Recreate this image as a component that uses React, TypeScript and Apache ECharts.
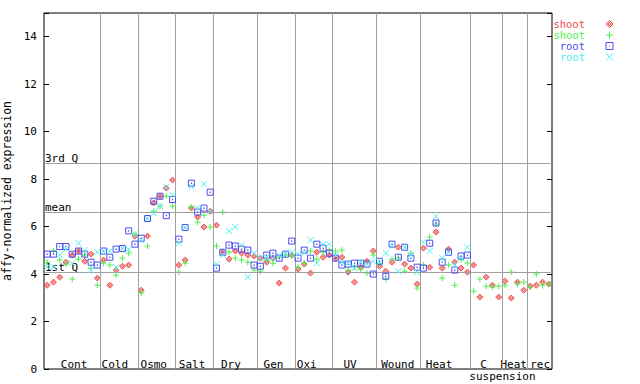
import React, { useEffect, useRef } from 'react';
import * as echarts from 'echarts';

const groupNames = ['Cont', 'Cold', 'Osmo', 'Salt', 'Dry', 'Gen', 'Oxi', 'UV', 'Wound', 'Heat', 'C suspension', 'Heat', 'rec'];
const groupSizes = [9, 6, 6, 6, 7, 6, 6, 7, 7, 8, 5, 4, 4];
const groupLabelAt = [4.8, 11.3, 17.5, 23.6, 29.8, 36.6, 41.9, 48.8, 56.4, 63.0, 70.1, 74.9, 79.1];
const subLabelAt = 73.1;

const yTicks = [0, 2, 4, 6, 8, 10, 12, 14];
const refLabels = ['3rd Q', 'mean', '1st Q'];
const refValues = [8.67, 6.6, 4.07];

const shootA = [
  3.53, 3.66, 3.87, 4.5, 4.8, 4.97, 4.54, 4.84, 3.83,
  4.59, 3.53, 4.17, 4.33, 4.38, 5.6,
  3.32, 5.6, 7.0, 7.28, 7.62, 7.96,
  4.38, 4.59, 6.78, 6.4, 5.98, 6.65,
  6.06, 4.92, 4.63, 4.97, 4.88, 4.8, 4.76,
  4.67, 4.5, 4.67, 3.62, 4.25, 4.8,
  4.21, 4.42, 4.04, 4.92, 4.71, 4.8,
  4.67, 4.71, 4.08, 3.66, 4.29, 4.54, 4.97,
  4.33, 4.12, 4.5, 5.13, 4.42, 4.25, 3.58,
  5.09, 4.29, 5.77, 4.25, 5.05, 4.5, 4.25, 4.08,
  4.38, 3.03, 3.87, 3.53, 3.03,
  3.7, 2.99, 3.66, 3.32,
  3.49, 3.53, 3.66, 3.58,
];
const shootB = [
  4.5, 4.97, 4.59, 4.42, 3.79, 4.63, 4.8, 4.25, 3.53,
  4.46, 4.38, 3.96, 4.67, 4.88, 5.68,
  3.2, 5.18, 6.65, 6.86, 7.28, 6.86,
  4.08, 4.46, 6.82, 6.19, 6.48, 5.98,
  5.18, 6.61, 4.92, 4.67, 4.59, 4.5, 4.17,
  4.12, 4.59, 4.46, 4.71, 4.8, 4.76,
  4.29, 4.46, 4.97, 4.63, 4.92, 5.01,
  4.97, 5.01, 4.17, 4.29, 4.21, 4.04, 4.8,
  4.46, 3.79, 4.63, 4.67, 4.12, 4.88, 3.41,
  4.38, 5.56, 6.1, 3.83, 4.38, 3.53, 4.6, 4.46,
  3.28, 3.79, 3.49, 3.45, 3.49,
  3.53, 4.08, 3.58, 3.66,
  3.45, 4.0, 3.53, 3.58,
];
const rootA = [
  4.84, 4.84, 5.16, 5.16, 4.84, 4.97, 4.84, 4.5, 4.38,
  4.97, 4.71, 5.05, 5.08, 5.82, 5.26,
  5.51, 6.34, 7.07, 7.28, 6.46, 7.14,
  5.47, 5.96, 7.83, 6.61, 6.78, 7.45,
  4.25, 4.92, 5.22, 5.18, 5.05, 5.01, 4.38,
  4.33, 4.8, 4.88, 4.67, 4.84, 5.39,
  4.67, 5.01, 4.67, 5.26, 5.09, 4.88,
  4.67, 4.38, 4.42, 4.46, 4.46, 4.42, 4.0,
  4.54, 3.91, 5.26, 4.71, 5.13, 4.67, 4.29,
  4.25, 5.3, 6.15, 4.5, 4.92, 4.17, 4.76, 4.8,
];
const rootB = [
  4.3, 4.3, 4.8, 5.05, 4.46, 5.3, 5.01, 4.17, 4.92,
  4.95, 4.97, 4.29, 5.08, 5.05, 5.68,
  5.43, 6.34, 6.57, 6.86, 7.66, 7.33,
  5.3, 5.96, 7.69, 6.78, 7.79, 6.65,
  4.42, 4.8, 5.81, 5.98, 5.22, 3.87, 4.88,
  4.67, 4.71, 4.67, 4.8, 4.84, 4.92,
  4.84, 4.9, 5.43, 4.46, 5.26, 5.26,
  4.8, 4.5, 4.46, 4.25, 4.5, 4.42, 4.54,
  4.5, 4.88, 5.2, 4.12, 5.13, 4.8, 4.08,
  5.34, 4.97, 6.44, 4.67, 4.92, 4.38, 4.67, 5.13,
];

const seriesNames = ['shoot', 'shoot', 'root', 'root'];
const seriesColors = ['#f04c4c', '#4cf04c', '#4c4cf0', '#4cf0f0'];
const seriesFills = ['rgba(240,76,76,0.25)', 'transparent', 'transparent', 'transparent'];
const seriesSymbols = [
  'path://M4,0L8,4L4,8L0,4Z M4,2L6,4L4,6L2,4Z',
  'path://M4,0L4,8M0,4L8,4',
  'path://M0,0L8,0L8,8L0,8Z M3.6,3.6L4.4,3.6L4.4,4.4L3.6,4.4Z',
  'path://M0,0L8,8M8,0L0,8',
];
const seriesValues = [shootA, shootB, rootA, rootB];

const FONT = 'DejaVu Sans Mono';

export default function App() {
  const ref = useRef<HTMLDivElement>(null);
  useEffect(() => {
    document.body.style.margin = '0';
    const chart = echarts.init(ref.current!, null, { renderer: 'svg' });
    const total = groupSizes.reduce((a, b) => a + b, 0);
    const bounds: number[] = [];
    let acc = 0;
    groupSizes.forEach((s, i) => {
      acc += s;
      if (i < groupSizes.length - 1) bounds.push(acc);
    });

    const scatter = seriesValues.map((vals, si) => ({
      type: 'scatter',
      name: seriesNames[si] + '#' + si,
      z: 3 + si,
      symbol: seriesSymbols[si],
      symbolSize: 6,
      itemStyle: { color: seriesFills[si], borderColor: seriesColors[si], borderWidth: 1, opacity: 1 },
      emphasis: { disabled: true },
      silent: true,
      data: vals.map((v, i) => [i + 0.5, v]),
    }));

    const lineStyle = { color: '#a0a0a0', width: 1, type: 'solid' };
    const option: any = {
      animation: false,
      backgroundColor: '#ffffff',
      grid: {
        left: 44, right: 88, top: 13, bottom: 15, show: true, borderColor: '#000', borderWidth: 1,
        backgroundColor: 'transparent', containLabel: false, outerBoundsMode: 'none',
      },
      xAxis: {
        type: 'value', min: 0, max: total,
        axisLine: { show: false }, axisTick: { show: false }, axisLabel: { show: false }, splitLine: { show: false },
      },
      yAxis: [
        {
          type: 'value', min: 0, max: 15, interval: 2,
          name: 'affy-normalized expression', nameLocation: 'middle', nameGap: 28, nameRotate: 90,
          nameTextStyle: { fontFamily: FONT, fontSize: 11.5, color: '#000' },
          axisLine: { show: false },
          axisTick: { show: true, inside: true, length: 5, lineStyle: { color: '#000' } },
          axisLabel: {
            fontFamily: FONT, fontSize: 11, color: '#000', margin: 7,
            formatter: (v: number) => (yTicks.indexOf(v) >= 0 ? String(v) : ''),
          },
          splitLine: { show: false },
        },
        {
          type: 'value', min: 0, max: 15, interval: 2, position: 'right',
          axisLine: { show: false },
          axisTick: { show: true, inside: true, length: 5, lineStyle: { color: '#000' } },
          axisLabel: { show: false },
          splitLine: { show: false },
        },
      ],
      series: [
        {
          type: 'line', name: 'ref', data: [], z: 1, silent: true,
          markLine: {
            silent: true, symbol: ['none', 'none'], animation: false,
            label: { show: false },
            lineStyle,
            emphasis: { disabled: true },
            data: [
              ...bounds.map((b) => ({ xAxis: b })),
              ...refValues.map((v) => ({ yAxis: v })),
            ],
          },
        },
        ...scatter,
      ],
    };
    chart.setOption(option);

    const toPx = (x: number, y: number) => chart.convertToPixel({ gridIndex: 0 } as any, [x, y]) as number[];
    const graphics: any[] = [];
    const base = toPx(0, 0);
    groupNames.forEach((name, gi) => {
      const parts = name.split(' ');
      const p = toPx(groupLabelAt[gi], 0);
      graphics.push({
        type: 'text', x: p[0], y: base[1] - 4.5,
        style: { text: parts[0], font: `11px "${FONT}"`, fill: '#000', align: 'center', verticalAlign: 'middle' },
      });
      if (parts.length > 1) {
        const q = toPx(subLabelAt, 0);
        graphics.push({
          type: 'text', x: q[0], y: base[1] + 7,
          style: { text: parts.slice(1).join(' '), font: `11px "${FONT}"`, fill: '#000', align: 'center', verticalAlign: 'middle' },
        });
      }
    });
    refLabels.forEach((lab, i) => {
      const p = toPx(0, refValues[i]);
      graphics.push({
        type: 'text', x: p[0] + 1, y: p[1] - 5,
        style: { text: lab, font: `11px "${FONT}"`, fill: '#000', align: 'left', verticalAlign: 'middle' },
      });
    });
    // legend
    const lx = 585;
    const mx = 609.5;
    seriesNames.forEach((name, i) => {
      const y = 24 + i * 11;
      graphics.push({
        type: 'text', x: lx, y,
        style: { text: name, font: `10.5px "${FONT}"`, lineHeight: 10, fill: seriesColors[i], align: 'right', verticalAlign: 'middle' },
      });
      const c = seriesColors[i];
      if (i === 0) {
        graphics.push({ type: 'polygon', shape: { points: [[mx, y - 3.5], [mx + 3.5, y], [mx, y + 3.5], [mx - 3.5, y]] }, style: { fill: seriesFills[0], stroke: c, lineWidth: 1 } });
        graphics.push({ type: 'polygon', shape: { points: [[mx, y - 1.5], [mx + 1.5, y], [mx, y + 1.5], [mx - 1.5, y]] }, style: { fill: 'none', stroke: c, lineWidth: 1 } });
      } else if (i === 1) {
        graphics.push({ type: 'line', shape: { x1: mx - 3.5, y1: y, x2: mx + 3.5, y2: y }, style: { stroke: c, lineWidth: 1 } });
        graphics.push({ type: 'line', shape: { x1: mx, y1: y - 3.5, x2: mx, y2: y + 3.5 }, style: { stroke: c, lineWidth: 1 } });
      } else if (i === 2) {
        graphics.push({ type: 'rect', shape: { x: mx - 3.5, y: y - 3.5, width: 7, height: 7 }, style: { fill: 'none', stroke: c, lineWidth: 1 } });
        graphics.push({ type: 'rect', shape: { x: mx - 0.5, y: y - 0.5, width: 1, height: 1 }, style: { fill: c } });
      } else {
        graphics.push({ type: 'line', shape: { x1: mx - 3.5, y1: y - 3.5, x2: mx + 3.5, y2: y + 3.5 }, style: { stroke: c, lineWidth: 1 } });
        graphics.push({ type: 'line', shape: { x1: mx - 3.5, y1: y + 3.5, x2: mx + 3.5, y2: y - 3.5 }, style: { stroke: c, lineWidth: 1 } });
      }
    });
    chart.setOption({ graphic: graphics });

    return () => chart.dispose();
  }, []);
  return <div ref={ref} style={{ position: 'absolute', left: 0, top: 0, width: 640, height: 384 }} />;
}
